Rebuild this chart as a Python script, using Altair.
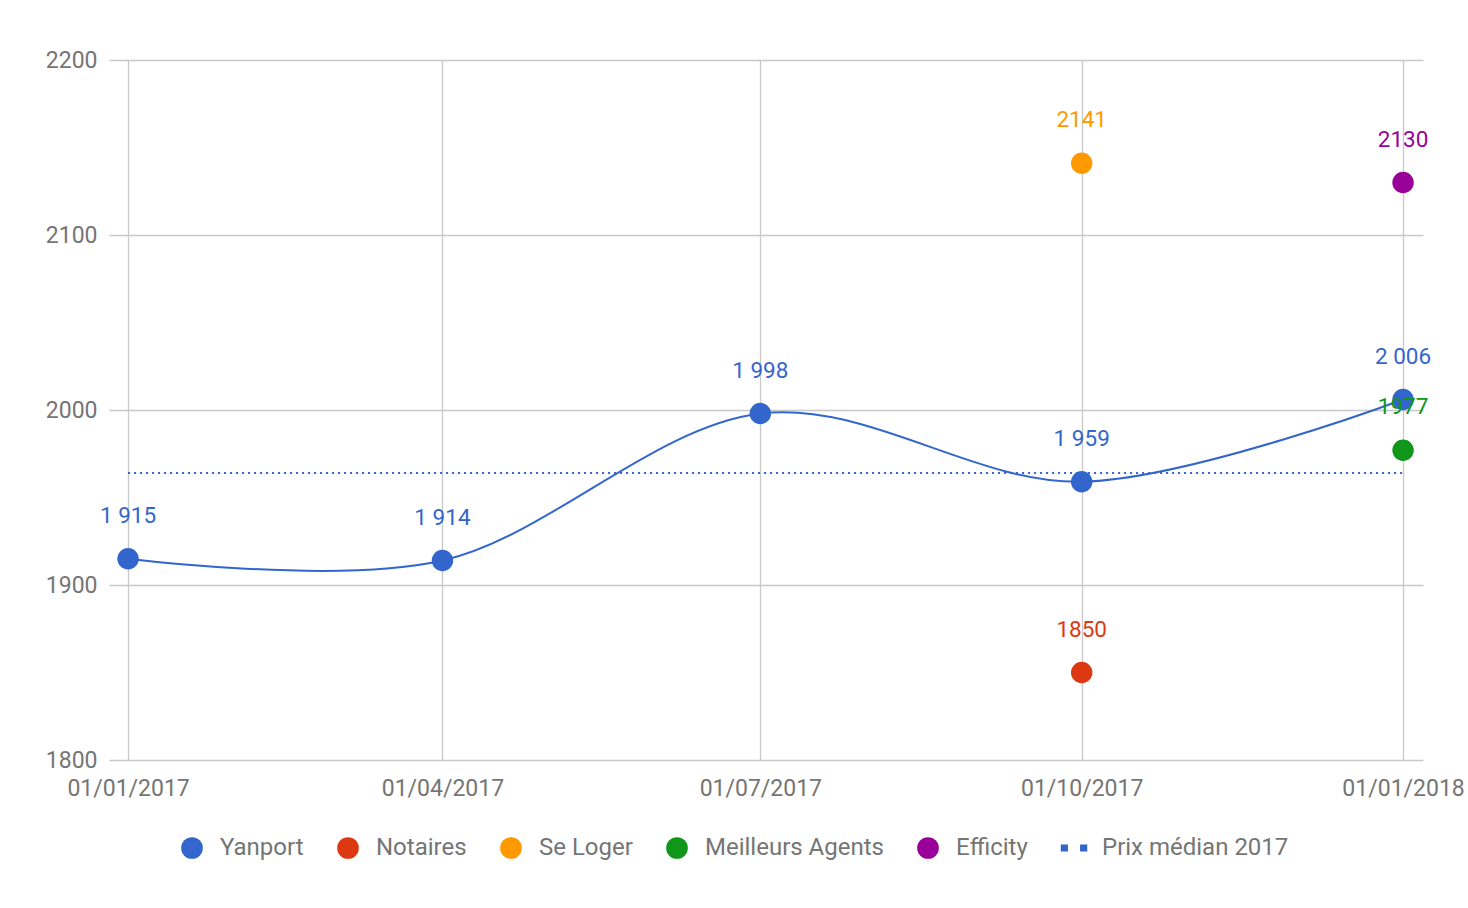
import altair as alt
import pandas as pd

# ---- data ----
dates = ["2017-01-01", "2017-04-01", "2017-07-01", "2017-10-01", "2018-01-01"]
yanport_values = [1915, 1914, 1998, 1959, 2006]
yanport_labels = ["1 915", "1 914", "1 998", "1 959", "2 006"]

other_series = ["Notaires", "Se Loger", "Meilleurs Agents", "Efficity"]
other_dates = ["2017-10-01", "2017-10-01", "2018-01-01", "2018-01-01"]
other_values = [1850, 2141, 1977, 2130]

median_value = 1964
median_start = "2017-01-01"
median_end = "2018-01-01"

series_names = ["Yanport", "Notaires", "Se Loger", "Meilleurs Agents", "Efficity", "Prix médian 2017"]
series_colors = ["#3366cc", "#dc3912", "#ff9900", "#109618", "#990099", "#3366cc"]
dash_symbol = "M-1.22,-0.33H-0.56V0.33H-1.22Z M0.56,-0.33H1.22V0.33H0.56Z"
series_shapes = ["circle", "circle", "circle", "circle", "circle", dash_symbol]

y_ticks = [1800, 1900, 2000, 2100, 2200]

color_of = dict(zip(series_names, series_colors))

# ---- tables ----
line_df = pd.DataFrame({"date": dates, "value": yanport_values})
points_df = pd.DataFrame({
    "date": dates + other_dates,
    "value": yanport_values + other_values,
    "series": ["Yanport"] * len(dates) + other_series,
    "label": yanport_labels + [str(v) for v in other_values],
})
points_df["labelColor"] = points_df["series"].map(color_of)
median_df = pd.DataFrame({"start": [median_start], "end": [median_end], "value": [median_value]})

FONT = "Roboto"
GRAY = "#757575"
GRID = "#c8c8c8"

x_scale = alt.Scale(
    type="utc",
    domain=[alt.DateTime(year=2016, month=12, date=26, hours=13, utc=True),
            alt.DateTime(year=2018, month=1, date=6, hours=17, utc=True)],
)
x_axis = alt.Axis(
    title=None,
    values=[alt.DateTime(year=int(d[:4]), month=int(d[5:7]), date=int(d[8:]), utc=True) for d in dates],
    labelExpr="utcFormat(datum.value, '%d/%m/%Y')",
    domain=False, ticks=False, grid=True, gridColor=GRID, gridWidth=1.3,
    labelFont=FONT, labelFontSize=23, labelColor=GRAY, labelPadding=17,
    labelFlush=False, labelOverlap=False,
)
y_scale = alt.Scale(domain=[1800, 2200], nice=False, zero=False)
y_axis = alt.Axis(
    title=None, values=y_ticks, format="d", domain=False, ticks=False, grid=True,
    gridColor=GRID, gridWidth=1.3,
    labelFont=FONT, labelFontSize=23, labelColor=GRAY, labelPadding=12,
)

line = alt.Chart(line_df).mark_line(interpolate="cardinal", strokeWidth=2, color="#3366cc").encode(
    x=alt.X("date:T", scale=x_scale, axis=x_axis),
    y=alt.Y("value:Q", scale=y_scale, axis=y_axis),
)

median = alt.Chart(median_df).mark_rule(color="#3366cc", strokeWidth=2, strokeDash=[2, 4]).encode(
    x=alt.X("start:T", scale=x_scale),
    x2="end:T",
    y=alt.Y("value:Q", scale=y_scale),
)

points = alt.Chart(points_df).mark_point(filled=True, opacity=1, size=460).encode(
    x=alt.X("date:T", scale=x_scale),
    y=alt.Y("value:Q", scale=y_scale),
    color=alt.Color("series:N", scale=alt.Scale(domain=series_names, range=series_colors), title=None),
    shape=alt.Shape("series:N", scale=alt.Scale(domain=series_names, range=series_shapes), title=None),
)

labels = alt.Chart(points_df).mark_text(dy=-36, baseline="alphabetic", align="center", font=FONT, fontSize=22.5).encode(
    x=alt.X("date:T", scale=x_scale),
    y=alt.Y("value:Q", scale=y_scale),
    text="label:N",
    color=alt.Color("labelColor:N", scale=None),
)

chart = alt.layer(line, median, points, labels).properties(
    width=1314, height=700,
    autosize=alt.AutoSizeParams(type="none"),
    padding={"left": 109, "top": 60, "right": 45, "bottom": 148},
    background="white",
).configure_view(stroke=None).configure_legend(
    orient="none", legendX=71, legendY=776, direction="horizontal", columns=6,
    labelFont=FONT, labelFontSize=24, labelColor=GRAY, symbolSize=470,
    labelOffset=16, columnPadding=32, symbolStrokeWidth=0, symbolOpacity=1,
    labelLimit=400,
)

chart.save("out.html", embed_options={"renderer": "svg", "actions": False})
